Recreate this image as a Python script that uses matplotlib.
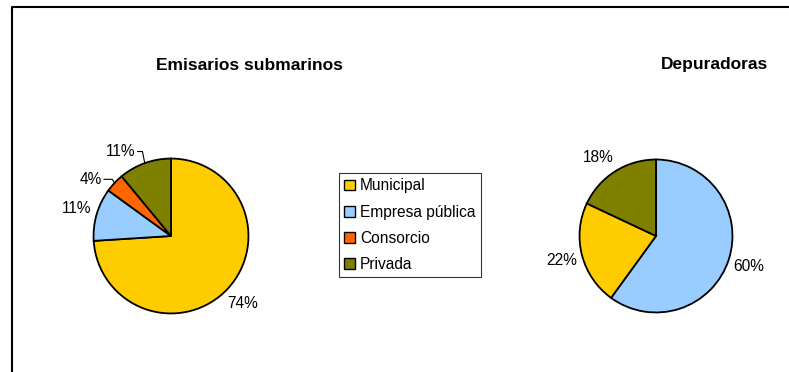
import numpy as np
import matplotlib

matplotlib.use("Agg")
import matplotlib.pyplot as plt
from matplotlib.lines import Line2D
from matplotlib.patches import Patch

plt.rcParams["font.family"] = ["Liberation Sans", "DejaVu Sans"]

# data
categories = ["Municipal", "Empresa pública", "Consorcio", "Privada"]
cat_colors = ["#FFCC00", "#99CCFF", "#FF6600", "#808000"]

emisarios_cats = ["Municipal", "Empresa pública", "Consorcio", "Privada"]
emisarios_vals = [74, 11, 4, 11]

depuradoras_cats = ["Empresa pública", "Municipal", "Privada"]
depuradoras_vals = [60, 22, 18]

W, H = 789, 372
color_of = dict(zip(categories, cat_colors))


def px_axes(fig, cx, cy, r):
    return fig.add_axes([(cx - r) / W, (H - cy - r) / H, 2 * r / W, 2 * r / H])


def draw_pie(fig, ax, cats, vals, title, title_xy, nudges, leaders):
    wedges, _ = ax.pie(
        vals,
        colors=[color_of[c] for c in cats],
        startangle=90,
        counterclock=False,
        radius=1.0,
        wedgeprops=dict(edgecolor="black", linewidth=1.3),
    )
    ax.set_xlim(-1.02, 1.02)
    ax.set_ylim(-1.02, 1.02)
    ax.axis("off")
    fig.canvas.draw()
    inv = ax.transData.inverted()
    for w, v, nud, lead in zip(wedges, vals, nudges, leaders):
        mid = np.deg2rad((w.theta1 + w.theta2) / 2)
        ang = mid + np.deg2rad(nud)
        xt, yt = 1.27 * np.cos(ang), 1.27 * np.sin(ang)
        t = ax.text(xt, yt, f"{v}%", ha="center", va="center", fontsize=11.2,
                    color="black", clip_on=False)
        if lead:
            bb = t.get_window_extent(renderer=fig.canvas.get_renderer())
            xr = inv.transform((bb.x1, bb.y0))[0]
            xe, ye = np.cos(mid), np.sin(mid)
            ax.plot([xr + 0.03, xe - 0.03, xe], [yt, yt, ye], color="black",
                    lw=0.8, clip_on=False)
    fig.text(title_xy[0] / W, 1 - title_xy[1] / H, title, ha="center", va="center",
             fontsize=12.5, fontweight="bold")


fig = plt.figure(figsize=(W / 100, H / 100), dpi=100)

# frame lines (left and top)
fig.add_artist(Line2D([12 / W, 12 / W, 1], [0, 1 - 7 / H, 1 - 7 / H],
                      color="black", lw=1.5, transform=fig.transFigure))

ax1 = px_axes(fig, 171, 236, 79)
draw_pie(fig, ax1, emisarios_cats, emisarios_vals, "Emisarios submarinos",
         (249, 65), [0, 0, 8, 11], [False, False, True, True])

ax2 = px_axes(fig, 656, 236, 78)
draw_pie(fig, ax2, depuradoras_cats, depuradoras_vals, "Depuradoras",
         (715, 65), [0, 0, 4], [False, False, False])

handles = [Patch(facecolor=c, edgecolor="black", linewidth=1.0) for c in cat_colors]
leg = fig.legend(handles, categories, loc="upper left",
                 bbox_to_anchor=(339 / W, 1 - 173 / H), borderaxespad=0,
                 fontsize=11.2, frameon=True, fancybox=False, shadow=False,
                 handlelength=0.7, handleheight=0.7, handletextpad=0.3,
                 labelspacing=0.72, borderpad=0.35)
leg.get_frame().set_edgecolor("black")
leg.get_frame().set_linewidth(0.8)

fig.savefig("out.png", dpi=100, facecolor="white")
